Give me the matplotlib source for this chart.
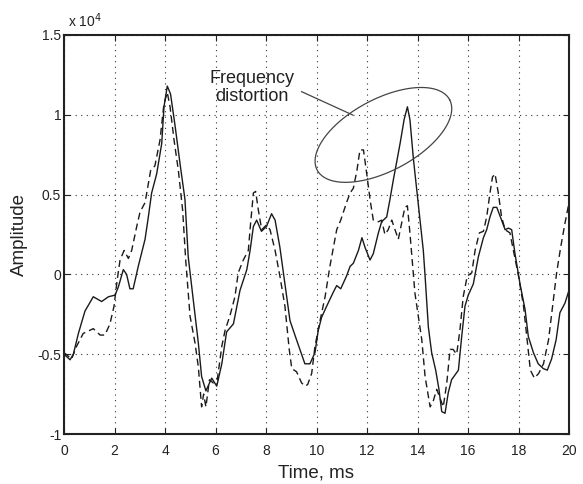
import numpy as np
import matplotlib
matplotlib.use("Agg")
import matplotlib.pyplot as plt

plt.rcParams['font.family'] = ['Liberation Sans', 'DejaVu Sans']

# Solid curve (time ms, amplitude x1e4)
t_solid = [0.0, 0.24, 0.37, 0.57, 0.83, 1.16, 1.49, 1.76, 2.02, 2.15, 2.35, 2.48, 2.61, 2.74,
           2.94, 3.21, 3.34, 3.47, 3.67, 3.87, 3.96, 4.09, 4.22, 4.40, 4.59, 4.79, 4.92, 5.12,
           5.32, 5.45, 5.62, 5.85, 6.05, 6.25, 6.44, 6.71, 6.97, 7.24, 7.37, 7.50, 7.63, 7.82,
           8.02, 8.22, 8.36, 8.55, 8.75, 8.95, 9.21, 9.54, 9.74, 9.94, 10.07, 10.20, 10.40,
           10.67, 10.80, 10.96, 11.19, 11.33, 11.46, 11.66, 11.80, 11.92, 12.12, 12.25, 12.45,
           12.58, 12.78, 12.91, 13.04, 13.17, 13.31, 13.47, 13.60, 13.70, 13.84, 13.97, 14.10,
           14.23, 14.30, 14.43, 14.56, 14.72, 14.85, 14.96, 15.09, 15.22, 15.35, 15.62, 15.75,
           15.88, 16.01, 16.21, 16.41, 16.61, 16.74, 16.87, 17.00, 17.14, 17.33, 17.47, 17.60,
           17.73, 17.86, 18.06, 18.26, 18.39, 18.59, 18.78, 18.98, 19.14, 19.31, 19.49, 19.64,
           19.84, 20.0]
v_solid = [-0.50, -0.535, -0.50, -0.37, -0.23, -0.14, -0.17, -0.14, -0.13, -0.08, 0.03, 0.0,
           -0.09, -0.09, 0.05, 0.22, 0.36, 0.51, 0.63, 0.82, 1.05, 1.18, 1.13, 0.93, 0.70,
           0.47, 0.11, -0.16, -0.43, -0.64, -0.73, -0.65, -0.70, -0.56, -0.36, -0.31, -0.10,
           0.03, 0.15, 0.30, 0.34, 0.27, 0.30, 0.38, 0.34, 0.17, -0.06, -0.29, -0.41, -0.56,
           -0.56, -0.49, -0.35, -0.27, -0.20, -0.11, -0.07, -0.09, -0.01, 0.05, 0.07, 0.15,
           0.23, 0.17, 0.09, 0.13, 0.26, 0.33, 0.36, 0.47, 0.59, 0.70, 0.82, 0.97, 1.05, 0.97,
           0.72, 0.53, 0.34, 0.15, -0.01, -0.33, -0.49, -0.60, -0.72, -0.86, -0.87, -0.74,
           -0.66, -0.60, -0.39, -0.20, -0.13, -0.06, 0.11, 0.23, 0.28, 0.36, 0.42, 0.42, 0.34,
           0.28, 0.29, 0.28, 0.13, -0.06, -0.22, -0.39, -0.49, -0.56, -0.59, -0.60, -0.53,
           -0.41, -0.24, -0.18, -0.10]

# Dashed curve
t_dash = [0.0, 0.30, 0.50, 0.76, 1.16, 1.43, 1.62, 1.82, 1.98, 2.11, 2.22, 2.38, 2.55, 2.68,
          2.88, 3.01, 3.21, 3.34, 3.43, 3.60, 3.80, 3.96, 4.09, 4.20, 4.36, 4.53, 4.70, 4.82,
          4.99, 5.19, 5.32, 5.45, 5.53, 5.62, 5.76, 5.91, 6.07, 6.25, 6.38, 6.57, 6.77, 6.90,
          7.10, 7.30, 7.39, 7.50, 7.59, 7.70, 7.83, 8.02, 8.16, 8.36, 8.55, 8.75, 8.92, 9.02,
          9.21, 9.41, 9.55, 9.65, 9.81, 9.94, 10.14, 10.34, 10.53, 10.67, 10.80, 10.96, 11.19,
          11.33, 11.46, 11.60, 11.72, 11.86, 11.99, 12.12, 12.25, 12.45, 12.58, 12.71, 12.84,
          12.98, 13.11, 13.24, 13.37, 13.50, 13.60, 13.70, 13.81, 13.90, 14.03, 14.17, 14.30,
          14.50, 14.63, 14.76, 15.02, 15.16, 15.29, 15.41, 15.55, 15.68, 15.81, 15.97, 16.15,
          16.28, 16.45, 16.61, 16.74, 16.87, 16.97, 17.07, 17.20, 17.33, 17.47, 17.66, 17.80,
          18.00, 18.20, 18.33, 18.47, 18.63, 18.80, 18.99, 19.19, 19.35, 19.51, 19.67, 19.84,
          20.0]
v_dash = [-0.49, -0.53, -0.45, -0.37, -0.34, -0.38, -0.38, -0.31, -0.20, -0.03, 0.09, 0.15,
          0.10, 0.15, 0.30, 0.39, 0.45, 0.57, 0.65, 0.68, 0.84, 1.07, 1.14, 1.05, 0.84, 0.65,
          0.40, 0.09, -0.26, -0.43, -0.58, -0.83, -0.75, -0.83, -0.66, -0.68, -0.66, -0.45,
          -0.35, -0.26, -0.14, 0.01, 0.09, 0.15, 0.32, 0.51, 0.52, 0.40, 0.28, 0.31, 0.28,
          0.15, -0.01, -0.20, -0.47, -0.59, -0.61, -0.68, -0.70, -0.69, -0.62, -0.45, -0.29,
          -0.14, 0.05, 0.17, 0.28, 0.34, 0.45, 0.51, 0.54, 0.65, 0.78, 0.78, 0.63, 0.47, 0.34,
          0.33, 0.34, 0.25, 0.28, 0.34, 0.28, 0.22, 0.32, 0.42, 0.43, 0.26, 0.05, -0.12, -0.26,
          -0.41, -0.64, -0.83, -0.79, -0.72, -0.83, -0.68, -0.47, -0.47, -0.50, -0.35, -0.14,
          -0.01, 0.01, 0.15, 0.26, 0.27, 0.36, 0.51, 0.61, 0.63, 0.51, 0.36, 0.28, 0.26, 0.15,
          -0.01, -0.20, -0.39, -0.60, -0.65, -0.62, -0.56, -0.41, -0.20, 0.01, 0.17, 0.32, 0.45]

x_ticks = [0, 2, 4, 6, 8, 10, 12, 14, 16, 18, 20]
y_ticks = [-1, -0.5, 0, 0.5, 1, 1.5]
y_tick_labels = ['-1', '-0.5', '0', '0.5', '1', '1.5']

fig = plt.figure(figsize=(5.83, 4.84), dpi=100)
ax = fig.add_axes([64/583, 1-434/484, (569-64)/583, (434-35)/484])

ax.plot(t_solid, v_solid, color='#1a1a1a', lw=1.0, ls='-')
ax.plot(t_dash, v_dash, color='#1a1a1a', lw=1.0, ls=(0, (5, 3)))

ax.set_xlim(0, 20)
ax.set_ylim(-1, 1.5)
ax.set_xticks(x_ticks)
ax.set_yticks(y_ticks)
ax.set_yticklabels(y_tick_labels)
ax.tick_params(direction='in', length=4, width=0.8, top=True, right=True,
               labelsize=10, colors='#222222')
ax.tick_params(axis='x', pad=7)
ax.tick_params(axis='y', pad=2)
ax.grid(True, ls=(0, (1, 4)), color='#333333', lw=0.8)
for s in ax.spines.values():
    s.set_linewidth(1.5)
    s.set_color('#222222')

ax.set_xlabel('Time, ms', fontsize=13.5, labelpad=5, color='#222222')
ax.set_ylabel('Amplitude', fontsize=13.5, labelpad=7, color='#222222')
ax.text(0.007, 1.012, r'x 10$^{4}$', transform=ax.transAxes, fontsize=10,
        ha='left', va='bottom', color='#222222')

# Annotation ellipse (drawn in pixel geometry)
sx = 505 / 20.0
sy = 399 / 2.5
cx, cy = 12.65, 0.874
a_px, b_px, ang = 75, 36, np.deg2rad(28)
th = np.linspace(0, 2*np.pi, 200)
xp = a_px*np.cos(th)*np.cos(ang) - b_px*np.sin(th)*np.sin(ang)
yp = a_px*np.cos(th)*np.sin(ang) + b_px*np.sin(th)*np.cos(ang)
ax.plot(cx + xp/sx, cy + yp/sy, color='#444444', lw=0.9)
ax.plot([9.41, 11.43], [1.145, 0.999], color='#444444', lw=0.9)
ax.text(7.45, 1.17, 'Frequency\ndistortion', fontsize=13, ha='center', va='center',
        linespacing=1.05, color='#222222')

fig.savefig('out.png', dpi=100, facecolor='white')
